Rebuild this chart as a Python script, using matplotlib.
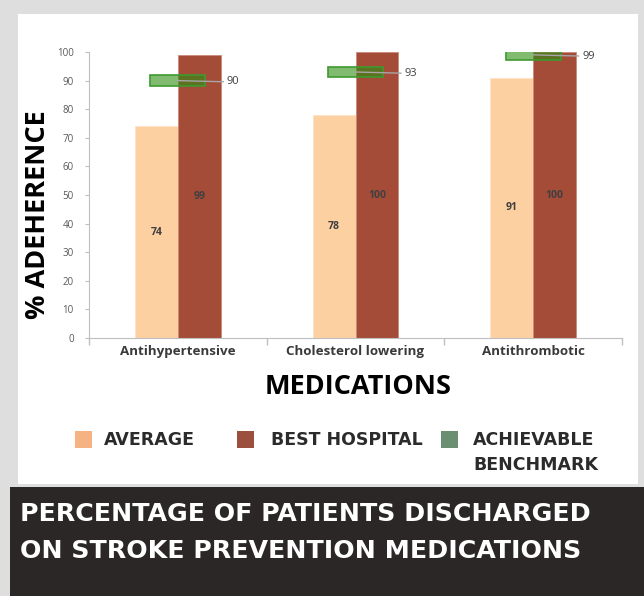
import matplotlib.pyplot as plt
from matplotlib.patches import Rectangle

categories = ["Antihypertensive", "Cholesterol lowering", "Antithrombotic"]
average = [74, 78, 91]
best_hospital = [99, 100, 100]
benchmark = [90, 93, 99]
y_ticks = list(range(0, 101, 10))
legend_labels = ["AVERAGE", "BEST HOSPITAL", "ACHIEVABLE\nBENCHMARK"]
title_lines = ["PERCENTAGE OF PATIENTS DISCHARGED", "ON STROKE PREVENTION MEDICATIONS"]

W, H = 644, 596
fig = plt.figure(figsize=(W / 100, H / 100), dpi=100, facecolor="#dedede")


def fx(x):
    return x / W


def fy(y):
    return 1 - y / H


# white card behind the chart and dark caption band underneath
fig.patches.append(Rectangle((fx(18), fy(484)), fx(620), 470 / H, transform=fig.transFigure,
                             facecolor="white", edgecolor="none", zorder=-2))
fig.patches.append(Rectangle((fx(10), 0), fx(634), 109 / H, transform=fig.transFigure,
                             facecolor="#2a2726", edgecolor="none", zorder=-2))

ax = fig.add_axes([fx(89), fy(338), fx(533), 286 / H])
ax.set_facecolor("none")

x = list(range(len(categories)))
w = 0.242
ax.bar([i - w / 2 for i in x], average, w, color="#fdd0a2", edgecolor="#fde3c8", linewidth=0.6, zorder=2)
ax.bar([i + w / 2 for i in x], best_hospital, w, color="#a44c37", edgecolor="#c98a7a", linewidth=0.6, zorder=2)

# benchmark drawn as a translucent green box centred on the target value
bh = 3.8
ax.bar(x, [bh] * len(x), 0.31, bottom=[b - bh / 2 for b in benchmark],
       color=(43 / 255, 142 / 255, 17 / 255, 0.6), edgecolor="#3f9a2f", linewidth=1.2, zorder=3)

for i, b in zip(x, benchmark):
    ax.plot([i, i + 0.255], [b, b - 0.4], color="#a6a6a6", lw=1, zorder=4)
    ax.text(i + 0.275, b - 0.4, str(b), va="center", ha="left", fontsize=8,
            family="Open Sans", color="#404040")

for i, a, bst in zip(x, average, best_hospital):
    ax.text(i - w / 2, a / 2, str(a), ha="center", va="center", fontsize=7.5,
            family="Open Sans", weight="bold", color="#404040", zorder=5)
    ax.text(i + w / 2, bst / 2, str(bst), ha="center", va="center", fontsize=7.5,
            family="Open Sans", weight="bold", color="#404040", zorder=5)

ax.set_xlim(-0.5, len(categories) - 0.5)
ax.set_ylim(0, 100)
ax.set_yticks(y_ticks)
ax.set_xticks([i - 0.5 for i in range(len(categories) + 1)])
ax.set_xticklabels([])
ax.set_xticks(x, minor=True)
ax.set_xticklabels(categories, minor=True, fontsize=9.6, family="Open Sans", weight="bold", color="#3a3a3a")
ax.tick_params(axis="x", which="major", length=5, color="#bfbfbf", width=1)
ax.tick_params(axis="x", which="minor", length=0, pad=5)
ax.tick_params(axis="y", length=3, color="#bfbfbf", labelsize=7, labelcolor="#595959", pad=8)
for lab in ax.get_yticklabels():
    lab.set_family("Open Sans")
for s in ["top", "right"]:
    ax.spines[s].set_visible(False)
for s in ["left", "bottom"]:
    ax.spines[s].set_color("#bfbfbf")

fig.text(fx(358), fy(387), "MEDICATIONS", ha="center", va="center", fontsize=19.5,
         family="Open Sans", weight="bold", color="black")
fig.text(fx(38), fy(215), "% ADEHERENCE", ha="center", va="center", rotation=90, fontsize=19.5,
         family="Open Sans", weight="bold", color="black")

# legend built by hand
leg_colors = ["#f5b283", "#9b4f3e", "#6b8f73"]
leg_box_x = [75, 237, 441]
leg_text_x = [104, 271, 473]
for c, bx, tx, lab in zip(leg_colors, leg_box_x, leg_text_x, legend_labels):
    fig.patches.append(Rectangle((fx(bx), fy(448)), fx(17), 17 / H, transform=fig.transFigure,
                                 facecolor=c, edgecolor="none"))
    for k, part in enumerate(lab.split("\n")):
        fig.text(fx(tx), fy(440 + 25 * k), part, ha="left", va="center",
                 fontsize=12.5, weight="bold", color="#2b2b2b", family="DejaVu Sans")

for k, line in enumerate(title_lines):
    fig.text(fx(20), fy(514 + 37 * k), line, ha="left", va="center", fontsize=18.2,
             weight="bold", color="white", family="DejaVu Sans")

fig.savefig("out.png", dpi=100, facecolor=fig.get_facecolor())
